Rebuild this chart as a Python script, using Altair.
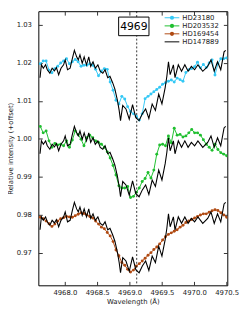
import altair as alt
import pandas as pd

# ---------------- data ----------------
series_names = ["HD23180", "HD203532", "HD169454", "HD147889"]
series_colors = ["#33c8f5", "#1fbf2f", "#b04a12", "#000000"]

wl_grid = [4967.620, 4967.665, 4967.710, 4967.755, 4967.800, 4967.845, 4967.890, 4967.935,
           4967.980, 4968.025, 4968.070, 4968.115, 4968.160, 4968.205, 4968.250, 4968.295,
           4968.340, 4968.385, 4968.430, 4968.475, 4968.520, 4968.565, 4968.610, 4968.655,
           4968.700, 4968.745, 4968.790, 4968.835, 4968.880, 4968.925, 4968.970, 4969.015,
           4969.060, 4969.105, 4969.150, 4969.195, 4969.240, 4969.285, 4969.330, 4969.375,
           4969.420, 4969.465, 4969.510, 4969.555, 4969.600, 4969.645, 4969.690, 4969.735,
           4969.780, 4969.825, 4969.870, 4969.915, 4969.960, 4970.005, 4970.050, 4970.095,
           4970.140, 4970.185, 4970.230, 4970.275, 4970.320, 4970.365, 4970.410, 4970.455,
           4970.500]

hd23180 = [1.0198, 1.0205, 1.0205, 1.0181, 1.0174, 1.0185, 1.0191, 1.0200,
           1.0205, 1.0211, 1.0198, 1.0203, 1.0209, 1.0203, 1.0191, 1.0194,
           1.0194, 1.0198, 1.0194, 1.0183, 1.0166, 1.0179, 1.0185, 1.0183,
           1.0150, 1.0128, 1.0102, 1.0092, 1.0112, 1.0105, 1.0085, 1.0072,
           1.0066, 1.0060, 1.0050, 1.0066, 1.0106, 1.0112, 1.0118, 1.0124,
           1.0130, 1.0136, 1.0144, 1.0148, 1.0152, 1.0155, 1.0150, 1.0160,
           1.0156, 1.0152, 1.0175, 1.0182, 1.0185, 1.0190, 1.0202, 1.0187,
           1.0196, 1.0188, 1.0200, 1.0208, 1.0168, 1.0198, 1.0211, 1.0211,
           1.0213]

hd203532 = [1.0033, 1.0016, 1.0021, 0.9995, 0.9978, 0.9988, 0.9984, 0.9986,
            0.9982, 0.9995, 0.9978, 0.9997, 1.0021, 1.0012, 0.9999, 0.9982,
            1.0003, 1.0010, 1.0003, 0.9995, 0.9991, 0.9986, 0.9978, 0.9966,
            0.9950, 0.9930, 0.9905, 0.9877, 0.9871, 0.9871, 0.9875, 0.9846,
            0.9849, 0.9860, 0.9871, 0.9888, 0.9896, 0.9912, 0.9897, 0.9918,
            0.9960, 0.9984, 0.9986, 0.9982, 1.0008, 0.9990, 1.0028, 1.0010,
            1.0012, 1.0005, 1.0008, 1.0016, 1.0025, 1.0016, 1.0016, 1.0010,
            0.9998, 0.9986, 0.9978, 0.9970, 0.9986, 0.9972, 0.9964, 0.9960,
            0.9956]

hd169454 = [0.9794, 0.9790, 0.9784, 0.9777, 0.9770, 0.9776, 0.9784, 0.9790,
            0.9793, 0.9796, 0.9795, 0.9794, 0.9798, 0.9802, 0.9806, 0.9804,
            0.9800, 0.9796, 0.9792, 0.9784, 0.9776, 0.9768, 0.9764, 0.9754,
            0.9745, 0.9730, 0.9708, 0.9693, 0.9675, 0.9668, 0.9657, 0.9650,
            0.9655, 0.9666, 0.9672, 0.9679, 0.9686, 0.9694, 0.9701, 0.9709,
            0.9716, 0.9724, 0.9734, 0.9743, 0.9749, 0.9753, 0.9757, 0.9761,
            0.9768, 0.9773, 0.9780, 0.9784, 0.9788, 0.9792, 0.9796, 0.9800,
            0.9803, 0.9803, 0.9807, 0.9811, 0.9814, 0.9812, 0.9806, 0.9800,
            0.9794]

# HD147889 (comparison), drawn at each of the three offsets
black_wl = [4967.616, 4967.637, 4967.667, 4967.702, 4967.728, 4967.768, 4967.803, 4967.839,
            4967.869, 4967.904, 4967.940, 4967.980, 4968.005, 4968.041, 4968.081, 4968.116,
            4968.147, 4968.182, 4968.207, 4968.233, 4968.268, 4968.298, 4968.334, 4968.369,
            4968.399, 4968.435, 4968.470, 4968.510, 4968.546, 4968.586, 4968.621, 4968.662,
            4968.697, 4968.738, 4968.773, 4968.813, 4968.839, 4968.860, 4968.894, 4968.944,
            4968.995, 4969.046, 4969.096, 4969.147, 4969.197, 4969.248, 4969.298, 4969.349,
            4969.399, 4969.450, 4969.500, 4969.550, 4969.576, 4969.601, 4969.627, 4969.677,
            4969.702, 4969.753, 4969.803, 4969.854, 4969.904, 4969.955, 4970.005, 4970.056,
            4970.131, 4970.207, 4970.258, 4970.308, 4970.359, 4970.409, 4970.460, 4970.485]
black_flux = [0.9961, 0.9995, 0.9986, 0.9995, 0.9982, 0.9973, 0.9986, 0.9979,
              0.9988, 0.9969, 0.9986, 0.9995, 1.0008, 0.9982, 0.9986, 1.0012,
              1.0033, 1.0016, 1.0008, 1.0021, 0.9999, 1.0016, 0.9995, 1.0016,
              0.9991, 1.0003, 0.9986, 0.9995, 0.9978, 0.9973, 0.9982, 0.9961,
              0.9965, 0.9948, 0.9931, 0.9901, 0.9875, 0.9848, 0.9888, 0.9879,
              0.9852, 0.9890, 0.9856, 0.9848, 0.9866, 0.9879, 0.9854, 0.9892,
              0.9875, 0.9918, 0.9892, 0.9935, 0.9965, 1.0003, 0.9969, 0.9995,
              0.9961, 0.9995, 0.9978, 0.9995, 0.9978, 0.9991, 0.9982, 0.9995,
              0.9978, 0.9991, 1.0008, 0.9978, 1.0003, 0.9982, 1.0029, 1.0033]
black_offsets = [0.02, 0.0, -0.02]

line_wl = [4969.11]
line_label = "4969"

x_ticks = [4968.0, 4968.5, 4969.0, 4969.5, 4970.0, 4970.5]
y_ticks = [0.97, 0.98, 0.99, 1.00, 1.01, 1.02, 1.03]
x_domain = [4967.59, 4970.51]
y_domain = [0.9615, 1.0336]

# ---------------- tables ----------------
rows = []
for name, vals in zip(series_names[:3], [hd23180, hd203532, hd169454]):
    for w, v in zip(wl_grid, vals):
        rows.append({"wl": w, "flux": v, "series": name})
df_col = pd.DataFrame(rows)

brows = []
for k, off in enumerate(black_offsets):
    for w, v in zip(black_wl, black_flux):
        brows.append({"wl": w, "flux": v + off, "panel": k})
df_blk = pd.DataFrame(brows)

df_line = pd.DataFrame({"wl": line_wl})
df_leg = pd.DataFrame({"name": series_names, "c": series_colors,
                       "ly": [6.7, 15.0, 23.1, 31.3],
                       "pt": [1, 1, 1, 0]})
df_one = pd.DataFrame({"t": [line_label]})

FONT = "DejaVu Sans"
xs = alt.Scale(domain=x_domain, nice=False, zero=False)
ys = alt.Scale(domain=y_domain, nice=False, zero=False)
neg = alt.ExprRef(expr="-4")

x_bottom = alt.Axis(values=x_ticks, format=".1f", title="Wavelength (Å)", grid=False,
                    domain=False, tickSize=neg, tickColor="#333", labelPadding=7,
                    labelOverlap=False, labelFlush=False, titlePadding=3)
y_left = alt.Axis(values=y_ticks, format=".2f", title="Relative intensity (+offset)",
                  grid=False, domain=False, tickSize=neg, tickColor="#333",
                  labelPadding=11, labelOverlap=False, titlePadding=3)
x_top = alt.Axis(values=x_ticks, orient="top", labels=False, title=None, grid=False,
                 domain=False, tickSize=neg, tickColor="#333")
y_right = alt.Axis(values=y_ticks, orient="right", labels=False, title=None, grid=False,
                   domain=False, tickSize=neg, tickColor="#333")

colored = alt.Chart(df_col).mark_line(
    strokeWidth=1, clip=True,
    point=alt.OverlayMarkDef(filled=True, size=9, clip=True)
).encode(
    x=alt.X("wl:Q", scale=xs, axis=x_bottom),
    y=alt.Y("flux:Q", scale=ys, axis=y_left),
    color=alt.Color("series:N", scale=alt.Scale(domain=series_names, range=series_colors),
                    legend=None),
)

black = alt.Chart(df_blk).mark_line(color="black", strokeWidth=1.1, clip=True).encode(
    x=alt.X("wl:Q", scale=xs, axis=x_top),
    y=alt.Y("flux:Q", scale=ys, axis=y_right),
    detail="panel:N",
)

vline = alt.Chart(df_line).mark_rule(color="black", strokeDash=[2, 2], strokeWidth=0.8).encode(
    x=alt.X("wl:Q", scale=xs, axis=None),
)

box = alt.Chart(df_one).mark_rect(fill="white", stroke="black", strokeWidth=1).encode(
    x=alt.value(82), x2=alt.value(113), y=alt.value(6), y2=alt.value(25),
)
box_text = alt.Chart(df_one).mark_text(font=FONT, fontSize=11, color="black",
                                       baseline="middle", align="center").encode(
    x=alt.value(97.5), y=alt.value(16), text="t:N",
)

leg_line = alt.Chart(df_leg).mark_rule(strokeWidth=1).encode(
    x=alt.value(129), x2=alt.value(144),
    y=alt.Y("ly:Q", scale=None, axis=None),
    color=alt.Color("c:N", scale=None, legend=None),
)
leg_pt = alt.Chart(df_leg).transform_filter("datum.pt == 1").mark_point(
    filled=True, size=18, opacity=1).encode(
    x=alt.value(136.5),
    y=alt.Y("ly:Q", scale=None, axis=None),
    color=alt.Color("c:N", scale=None, legend=None),
)
leg_txt = alt.Chart(df_leg).mark_text(font=FONT, fontSize=7, align="left",
                                      baseline="middle", color="#222").encode(
    x=alt.value(147),
    y=alt.Y("ly:Q", scale=None, axis=None),
    text="name:N",
)

chart = alt.layer(
    colored, black, vline, box, box_text, leg_line, leg_pt, leg_txt
).resolve_axis(
    x="independent", y="independent"
).properties(
    width=193, height=280,
    autosize=alt.AutoSizeParams(type="none"),
    padding={"left": 31, "top": 0, "right": 14, "bottom": 25},
).configure_view(
    stroke="black", strokeWidth=1
).configure_axis(
    labelFont=FONT, labelFontSize=7, labelColor="#222",
    titleFont=FONT, titleFontSize=7, titleFontWeight="normal", titleColor="#222",
)

chart.save("out.html", embed_options={"renderer": "svg", "actions": False})
